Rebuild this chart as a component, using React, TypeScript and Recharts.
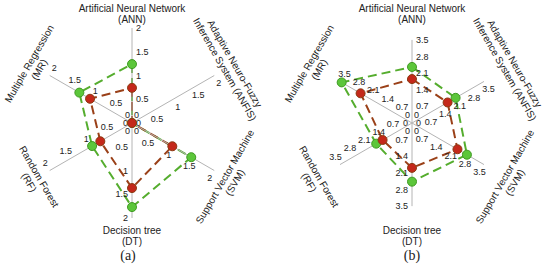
import { PolarAngleAxis, PolarRadiusAxis, Radar, RadarChart } from 'recharts';

// model order, clockwise from the top spoke
const models = ['ANN', 'ANFIS', 'SVM', 'DT', 'RF', 'MR'];
const modelLines = [
  ['Artificial Neural Network', '(ANN)'],
  ['Adaptive Neuro-Fuzzy', 'Inference System (ANFIS)'],
  ['Support Vector Machine', '(SVM)'],
  ['Decision tree', '(DT)'],
  ['Random Forest', '(RF)'],
  ['Multiple Regression', '(MR)'],
];

// panel (a)
const greenA = [1.24, 0, 1.44, 1.77, 0.97, 1.28];
const redA = [0.74, 0, 0.98, 1.37, 0.77, 1.02];
const ticksA = [0, 0.5, 1, 1.5, 2];

// panel (b)
const greenB = [2.36, 2.12, 2.67, 2.47, 1.74, 3.42];
const redB = [1.85, 1.73, 2.21, 1.89, 1.43, 2.5];
const ticksB = [0, 0.7, 1.4, 2.1, 2.8, 3.5];

const SPOKES = [90, 30, -30, -90, -150, 150];
const FONT = '"Liberation Sans", Arial, sans-serif';
const GREEN_LINE = '#55ad2e';
const GREEN_DOT = '#5cc63a';
const RED_LINE = '#9a4018';
const RED_DOT = '#c4281a';

const makeRadiusTick = (angle: number) => (props: any) => {
  const { x, y, payload } = props;
  const vertical = Math.abs(Math.cos((angle * Math.PI) / 180)) < 0.01;
  const p = ((angle - 90) * Math.PI) / 180;
  const px = Math.cos(p);
  const py = -Math.sin(p);
  const d = vertical ? 4 : 9;
  const anchor = vertical ? (px > 0 ? 'start' : 'end') : 'middle';
  return (
    <text
      x={x + px * d}
      y={y + py * d}
      textAnchor={anchor}
      dominantBaseline="central"
      fontSize={9}
      fontFamily={FONT}
      fill="#222"
    >
      {payload.value}
    </text>
  );
};

const makeAngleTick = (cx: number, cy: number) => (props: any) => {
  const { payload } = props;
  const idx = models.indexOf(payload.value);
  const angle = payload.coordinate;
  const r = Math.round(angle) === 90 ? 109 : 113;
  const rad = (angle * Math.PI) / 180;
  const x = cx + r * Math.cos(rad);
  const y = cy - r * Math.sin(rad);
  let rot = 90 - angle;
  while (rot > 90) rot -= 180;
  while (rot < -90) rot += 180;
  const lines = modelLines[idx];
  return (
    <text
      transform={`rotate(${rot} ${x} ${y})`}
      x={x}
      y={y}
      textAnchor="middle"
      fontSize={10}
      fontFamily={FONT}
      fill="#222"
    >
      <tspan x={x} dy={-2.2}>{lines[0]}</tspan>
      <tspan x={x} dy={11.5}>{lines[1]}</tspan>
    </text>
  );
};

const makeDot = (fill: string, stroke: string) => (props: any) => (
  <circle key={`${props.cx}-${props.cy}-${fill}`} cx={props.cx} cy={props.cy} r={4.5} fill={fill} stroke={stroke} strokeWidth={1} />
);

interface PanelProps {
  green: number[];
  red: number[];
  ticks: number[];
  cx: number;
  cy: number;
}

function Panel({ green, red, ticks, cx, cy }: PanelProps) {
  const data = models.map((m, i) => ({ model: m, green: green[i], red: red[i] }));
  const max = ticks[ticks.length - 1];
  return (
    <RadarChart width={275} height={269} data={data} cx={cx} cy={cy} outerRadius={95} margin={{ top: 0, right: 0, bottom: 0, left: 0 }}>
      <PolarAngleAxis dataKey="model" axisLine={false} tickLine={false} tick={makeAngleTick(cx, cy)} />
      {SPOKES.map((a, i) => (
        <PolarRadiusAxis
          key={i}
          radiusAxisId={i}
          angle={a}
          type="number"
          domain={[0, max]}
          ticks={ticks}
          tickCount={ticks.length}
          allowDataOverflow
          axisLine={{ stroke: '#b4b4b4', strokeWidth: 1 }}
          tickLine={false}
          tick={makeRadiusTick(a)}
        />
      ))}
      <Radar
        dataKey="green"
        radiusAxisId={0}
        stroke={GREEN_LINE}
        strokeWidth={2}
        strokeDasharray="9 5"
        fill="none"
        fillOpacity={0}
        dot={makeDot(GREEN_DOT, '#3f9a22')}
        isAnimationActive={false}
      />
      <Radar
        dataKey="red"
        radiusAxisId={0}
        stroke={RED_LINE}
        strokeWidth={2}
        strokeDasharray="9 5"
        fill="none"
        fillOpacity={0}
        dot={makeDot(RED_DOT, '#8b3a12')}
        isAnimationActive={false}
      />
    </RadarChart>
  );
}

export default function App() {
  return (
    <div style={{ position: 'absolute', left: 0, top: 0, width: 550, height: 269, background: '#fff' }}>
      <div style={{ position: 'absolute', left: 0, top: 0 }}>
        <Panel green={greenA} red={redA} ticks={ticksA} cx={132} cy={123} />
      </div>
      <div style={{ position: 'absolute', left: 275, top: 0 }}>
        <Panel green={greenB} red={redB} ticks={ticksB} cx={137} cy={123} />
      </div>
      <div style={{ position: 'absolute', left: 108, top: 248, width: 40, textAlign: 'center', fontFamily: '"Liberation Serif", serif', fontSize: 14, color: '#222' }}>(a)</div>
      <div style={{ position: 'absolute', left: 392, top: 248, width: 40, textAlign: 'center', fontFamily: '"Liberation Serif", serif', fontSize: 14, color: '#222' }}>(b)</div>
    </div>
  );
}
